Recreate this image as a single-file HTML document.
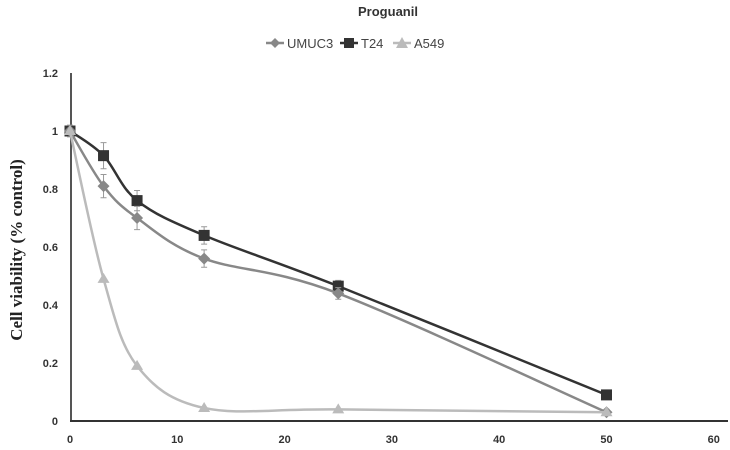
<!DOCTYPE html>
<html><head><meta charset="utf-8"><style>
body{margin:0;background:#fff}
svg{display:block}
</style></head><body>
<svg id="s" width="730" height="450" xmlns="http://www.w3.org/2000/svg">
<text x="388" y="16" font-family="Liberation Sans, sans-serif" font-weight="bold" font-size="13" fill="#333" text-anchor="middle">Proguanil</text>
<g font-family="Liberation Sans, sans-serif" font-size="13" fill="#444">
<line x1="266" y1="43" x2="284" y2="43" stroke="#888" stroke-width="2.5"/><path d="M275 38 L280 43 L275 48 L270 43Z" fill="#888"/>
<text x="287" y="48">UMUC3</text>
<line x1="340" y1="43" x2="358" y2="43" stroke="#333" stroke-width="2.5"/><rect x="344" y="38" width="10" height="10" fill="#333"/>
<text x="361" y="48">T24</text>
<line x1="393" y1="43" x2="411" y2="43" stroke="#bbb" stroke-width="2.5"/><path d="M402 37 L408 48 L396 48Z" fill="#bbb"/>
<text x="414" y="48">A549</text>
</g>
<text transform="translate(22,250) rotate(-90)" font-family="Liberation Serif, serif" font-weight="bold" font-size="17" fill="#222" text-anchor="middle">Cell viability (% control)</text>
<line x1="71" y1="73" x2="71" y2="422" stroke="#555" stroke-width="2"/>
<line x1="70" y1="421" x2="728" y2="421" stroke="#333" stroke-width="2"/>
<g id="g" font-family="Liberation Sans, sans-serif" font-weight="bold" font-size="11" fill="#333"></g>
</svg>
<script>
var s=document.getElementById('s'),g=document.getElementById('g'),NS='http://www.w3.org/2000/svg';
function X(v){return 70+10.73*v}function Y(v){return 421-290*v}
function el(t,a,p){var e=document.createElementNS(NS,t);for(var k in a)e.setAttribute(k,a[k]);(p||s).appendChild(e);return e}
[0,0.2,0.4,0.6,0.8,1,1.2].forEach(function(v){var t=el('text',{x:58,y:Y(v)+4,'text-anchor':'end'},g);t.textContent=v});
[0,10,20,30,40,50,60].forEach(function(v){var t=el('text',{x:X(v),y:443,'text-anchor':'middle'},g);t.textContent=v});
var xs=[0,3.125,6.25,12.5,25,50];
var series=[
{d:[1,0.915,0.76,0.64,0.465,0.09],e:[0.02,0.045,0.035,0.03,0.02,0.01],c:'#333',m:'sq'},
{d:[1,0.81,0.70,0.56,0.44,0.03],e:[0.02,0.04,0.04,0.03,0.02,0.01],c:'#888',m:'di'},
{d:[1,0.49,0.19,0.045,0.04,0.03],e:[0,0,0,0,0,0],c:'#bbb',m:'tr'}];
series.forEach(function(S){
 var P=xs.map(function(x,i){return[X(x),Y(S.d[i])]});
 var d='M'+P[0];
 for(var i=0;i<P.length-1;i++){var p0=P[i-1]||P[i],p1=P[i],p2=P[i+1],p3=P[i+2]||P[i+1],t=6;
  var c1=[p1[0]+(p2[0]-p0[0])/t,p1[1]+(p2[1]-p0[1])/t],c2=[p2[0]-(p3[0]-p1[0])/t,p2[1]-(p3[1]-p1[1])/t];
  d+='C'+c1+' '+c2+' '+p2;}
 el('path',{d:d,fill:'none',stroke:S.c,'stroke-width':2.5});
 P.forEach(function(p,i){var e=S.e[i]*290;if(e>2){el('path',{d:'M'+p[0]+' '+(p[1]-e)+'V'+(p[1]+e)+'M'+(p[0]-3)+' '+(p[1]-e)+'h6M'+(p[0]-3)+' '+(p[1]+e)+'h6',stroke:'#999','stroke-width':1,fill:'none'})}
  if(S.m=='sq')el('rect',{x:p[0]-5.5,y:p[1]-5.5,width:11,height:11,fill:S.c});
  else if(S.m=='di')el('path',{d:'M'+p[0]+' '+(p[1]-6)+'l6 6l-6 6l-6 -6z',fill:S.c});
  else el('path',{d:'M'+p[0]+' '+(p[1]-6)+'l6 10h-12z',fill:S.c});
 });
});
</script>
</body></html>
